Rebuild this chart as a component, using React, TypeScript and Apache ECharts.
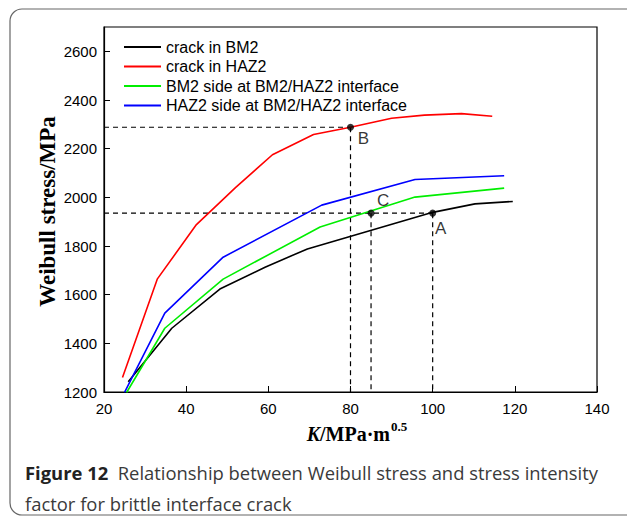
import React, { useEffect, useRef } from "react";
import * as echarts from "echarts";

const seriesNames = [
  "crack in BM2",
  "crack in HAZ2",
  "BM2 side at BM2/HAZ2 interface",
  "HAZ2 side at BM2/HAZ2 interface",
];
const seriesColors = ["#000000", "#ff0000", "#00ee00", "#0000ff"];

const crackBM2: number[][] = [
  [25.9, 1242], [36.5, 1462], [48.2, 1623], [59.2, 1713], [69.5, 1788],
  [99.4, 1936], [110.3, 1973], [119.5, 1983],
];
const crackHAZ2: number[][] = [
  [24.5, 1260], [33, 1665], [42.5, 1888], [52, 2040], [61, 2175], [71, 2258],
  [80, 2288], [90, 2325], [98, 2338], [107, 2344], [114.5, 2333],
];
const bm2Side: number[][] = [
  [25.5, 1198], [34.8, 1462], [49, 1664], [72.6, 1878], [95.7, 2001], [117.4, 2038],
];
const haz2Side: number[][] = [
  [25, 1198], [34.8, 1524], [49, 1754], [73, 1968], [95.7, 2073], [117.4, 2089],
];

const pointLabels = ["A", "B", "C"];
const pointX = [100, 80, 85];
const pointY = [1935, 2288, 1935];

const xMin = 20, xMax = 140, xStep = 20;
const yMin = 1200, yMax = 2700, yStep = 200;

const captionBold = "Figure 12";
const captionLine1 = "Relationship between Weibull stress and stress intensity";
const captionLine2 = "factor for brittle interface crack";

export default function App() {
  const ref = useRef<HTMLDivElement>(null);
  useEffect(() => {
    if (!ref.current) return;
    const chart = echarts.init(ref.current, null, { renderer: "svg" });
    const allData = [crackBM2, crackHAZ2, bm2Side, haz2Side];
    const lineSeries = allData.map((d, i) => ({
      type: "line",
      name: seriesNames[i],
      data: d,
      symbol: "none",
      showSymbol: false,
      lineStyle: { color: seriesColors[i], width: 1.6 },
      itemStyle: { color: seriesColors[i] },
      z: 3,
    }));
    const dashStyle = { color: "#000", width: 1.2, type: [5, 4] };
    const dashSeries: any[] = [];
    const seen = new Set<number>();
    pointLabels.forEach((_, i) => {
      if (!seen.has(pointY[i])) {
        const maxX = Math.max(...pointX.filter((_, j) => pointY[j] === pointY[i]));
        dashSeries.push({
          type: "line", data: [[xMin, pointY[i]], [maxX, pointY[i]]], symbol: "none",
          lineStyle: dashStyle, silent: true, z: 2,
        });
        seen.add(pointY[i]);
      }
      dashSeries.push({
        type: "line", data: [[pointX[i], pointY[i]], [pointX[i], yMin]], symbol: "none",
        lineStyle: dashStyle, silent: true, z: 2,
      });
    });
    const offsets: Record<string, number[]> = { A: [8, 15], B: [13, 11], C: [12, -13] };
    const scatter = {
      type: "scatter",
      symbolSize: 7,
      itemStyle: { color: "#000" },
      z: 5,
      data: pointLabels.map((l, i) => ({
        value: [pointX[i], pointY[i]],
        name: l,
        label: {
          show: true, formatter: l, position: "inside", offset: offsets[l],
          color: "#000", fontSize: 17, fontFamily: "Liberation Sans, Arial",
          textBorderWidth: 0,
        },
      })),
    };
    chart.setOption({
      animation: false,
      grid: {
        left: 104, top: 27, width: 493, height: 365, show: true,
        borderColor: "#000", borderWidth: 1.2, backgroundColor: "transparent",
      },
      legend: {
        data: seriesNames,
        orient: "vertical",
        left: 118, top: 34,
        itemWidth: 37, itemHeight: 16, itemGap: 3.5,
        itemStyle: { opacity: 0 },
        textStyle: { fontSize: 16, color: "#000", fontFamily: "Liberation Sans, Arial" },
      },
      xAxis: {
        type: "value", min: xMin, max: xMax, interval: xStep,
        axisLine: { lineStyle: { color: "#000", width: 1.2 } },
        axisTick: { inside: true, length: 6, lineStyle: { color: "#000" } },
        axisLabel: {
          color: "#000", fontSize: 15, margin: 9, fontFamily: "Liberation Sans, Arial",
          formatter: (v: number) => String(v),
        },
        splitLine: { show: false },
      },
      yAxis: {
        type: "value", min: yMin, max: yMax, interval: yStep,
        axisLine: { show: true, lineStyle: { color: "#000", width: 1.2 } },
        axisTick: { show: true, inside: true, length: 6, lineStyle: { color: "#000" } },
        axisLabel: {
          color: "#000", fontSize: 15, margin: 7, showMaxLabel: false,
          fontFamily: "Liberation Sans, Arial", formatter: (v: number) => String(v),
        },
        splitLine: { show: false },
      },
      graphic: [
        {
          type: "rect", shape: { x: 10, y: 9, width: 700, height: 506, r: 12 },
          style: { fill: "none", stroke: "#666", lineWidth: 1.2 }, silent: true,
        },
        {
          type: "text", x: 47, y: 211.5, rotation: Math.PI / 2,
          style: {
            text: "Weibull stress/MPa", fontSize: 23, fontWeight: "bold",
            fontFamily: "Liberation Serif, Times New Roman", fill: "#000",
            align: "center", verticalAlign: "middle",
          },
        },
        {
          type: "text", x: 390, y: 434,
          style: {
            text: "{k|K}{n|/MPa·m}", align: "right", verticalAlign: "middle",
            rich: {
              k: { fontSize: 20, fontWeight: "bold", fontStyle: "italic", fontFamily: "Liberation Serif", fill: "#000" },
              n: { fontSize: 20, fontWeight: "bold", fontFamily: "Liberation Serif", fill: "#000" },
            },
          },
        },
        {
          type: "text", x: 391, y: 426,
          style: {
            text: "0.5", fontSize: 13, fontWeight: "bold", fontFamily: "Liberation Serif",
            fill: "#000", align: "left", verticalAlign: "middle",
          },
        },
        {
          type: "text", x: 25, y: 472,
          style: {
            text: "{b|" + captionBold + "}{r|  " + captionLine1 + "}",
            verticalAlign: "middle", align: "left",
            rich: {
              b: { fontSize: 18.4, fontWeight: "bold", fontFamily: "Open Sans", fill: "#222" },
              r: { fontSize: 18.4, fontFamily: "Open Sans", fill: "#3a3a3a" },
            },
          },
        },
        {
          type: "text", x: 25, y: 503,
          style: {
            text: captionLine2, fontSize: 18.4, fontFamily: "Open Sans", fill: "#3a3a3a",
            verticalAlign: "middle", align: "left",
          },
        },
      ],
      series: [...lineSeries, ...dashSeries, scatter],
    });
    return () => chart.dispose();
  }, []);
  return (
    <div
      ref={ref}
      style={{ position: "fixed", left: 0, top: 0, width: 627, height: 519, background: "#fff" }}
    />
  );
}
